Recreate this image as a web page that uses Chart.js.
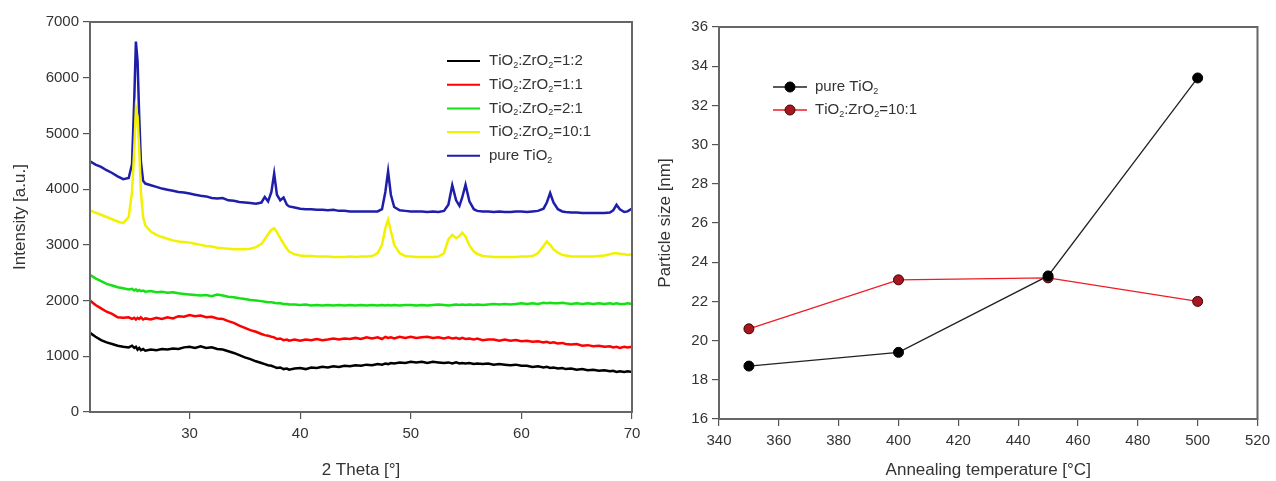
<!DOCTYPE html>
<html>
<head>
<meta charset="utf-8">
<script src="https://cdn.jsdelivr.net/npm/chart.js@4"></script>
<style>
  body { margin: 0; background: #fff; }
  #wrap { position: relative; width: 1276px; height: 481px; }
  canvas { position: absolute; top: 0; }
  #xrd_chart { left: 0; }
  #size_chart { left: 640px; }
</style>
</head>
<body>
<div id="wrap">
  <canvas id="xrd_chart" width="650" height="481"></canvas>
  <canvas id="size_chart" width="636" height="481"></canvas>
</div>
<script>
"use strict";

// ---- XRD patterns (left) ----
const twoTheta = [
	21, 21.5, 22, 22.5, 23, 23.5, 24, 24.5, 24.8, 25.0,
	25.15, 25.3, 25.45, 25.6, 25.8, 26, 26.5, 27, 27.5, 28,
	28.5, 29, 29.5, 30, 30.5, 31, 31.5, 32, 32.5, 33,
	33.5, 34, 34.5, 35, 35.5, 36, 36.5, 36.8, 37.1, 37.4,
	37.65, 37.9, 38.2, 38.5, 38.8, 39, 39.5, 40, 40.5, 41,
	41.5, 42, 42.5, 43, 43.5, 44, 44.5, 45, 45.5, 46,
	46.5, 47, 47.4, 47.7, 47.95, 48.2, 48.5, 49, 49.5, 50,
	50.5, 51, 51.5, 52, 52.5, 53, 53.4, 53.75, 54.1, 54.4,
	54.65, 54.95, 55.3, 55.7, 56, 56.5, 57, 57.5, 58, 58.5,
	59, 59.5, 60, 60.5, 61, 61.5, 62, 62.3, 62.6, 62.9,
	63.3, 63.7, 64, 64.5, 65, 65.5, 66, 66.5, 67, 67.5,
	68, 68.3, 68.6, 68.9, 69.3, 69.6, 70,
];

const ratio12 = [
	1420, 1350, 1290, 1250, 1220, 1190, 1170, 1160, 1190, 1150,
	1170, 1120, 1150, 1110, 1130, 1100, 1120, 1110, 1130, 1120,
	1140, 1130, 1160, 1170, 1150, 1180, 1150, 1160, 1130, 1120,
	1090, 1060, 1020, 980, 950, 910, 880, 860, 840, 830,
	810, 790, 800, 770, 780, 760, 780, 790, 770, 800,
	790, 810, 800, 820, 810, 830, 820, 840, 830, 850,
	840, 860, 850, 870, 860, 880, 870, 890, 880, 900,
	890, 900, 880, 900, 890, 880, 890, 870, 890, 870,
	880, 870, 880, 860, 870, 860, 870, 850, 860, 850,
	840, 850, 830, 830, 810, 820, 800, 810, 790, 800,
	780, 790, 770, 780, 760, 770, 750, 760, 740, 750,
	730, 740, 720, 730, 720, 730, 720,
];

const ratio11 = [
	2000, 1920, 1860, 1800, 1760, 1700, 1690, 1700, 1670, 1690,
	1660, 1690, 1670, 1700, 1660, 1680, 1660, 1690, 1670, 1700,
	1680, 1720, 1710, 1740, 1720, 1730, 1700, 1710, 1680, 1670,
	1630, 1600, 1550, 1510, 1470, 1440, 1400, 1380, 1370, 1350,
	1340, 1310, 1320, 1290, 1300, 1280, 1300, 1280, 1300, 1290,
	1310, 1290, 1300, 1320, 1300, 1320, 1310, 1330, 1310, 1340,
	1320, 1340, 1310, 1350, 1330, 1340, 1320, 1350, 1330, 1350,
	1330, 1340, 1350, 1330, 1340, 1320, 1340, 1320, 1330, 1310,
	1330, 1310, 1320, 1300, 1320, 1290, 1300, 1300, 1280, 1300,
	1280, 1290, 1270, 1280, 1260, 1270, 1250, 1260, 1240, 1250,
	1230, 1240, 1220, 1210, 1220, 1190, 1200, 1180, 1190, 1170,
	1180, 1160, 1170, 1150, 1170, 1160, 1170,
];

const ratio21 = [
	2460, 2400, 2350, 2300, 2270, 2240, 2220, 2200, 2210, 2180,
	2200, 2170, 2190, 2170, 2180, 2160, 2170, 2150, 2160, 2140,
	2150, 2130, 2120, 2110, 2100, 2090, 2100, 2080, 2110, 2090,
	2070, 2060, 2040, 2030, 2010, 2000, 1990, 1980, 1970, 1970,
	1960, 1950, 1950, 1940, 1940, 1930, 1930, 1920, 1930, 1910,
	1920, 1910, 1920, 1910, 1920, 1910, 1920, 1910, 1920, 1910,
	1920, 1910, 1920, 1910, 1920, 1910, 1920, 1910, 1920, 1920,
	1910, 1920, 1910, 1920, 1930, 1920, 1910, 1920, 1930, 1920,
	1930, 1920, 1930, 1920, 1930, 1920, 1930, 1940, 1930, 1940,
	1930, 1940, 1950, 1940, 1950, 1940, 1960, 1950, 1960, 1950,
	1950, 1960, 1950, 1940, 1950, 1940, 1950, 1940, 1950, 1940,
	1950, 1940, 1950, 1940, 1940, 1950, 1940,
];

const ratio101 = [
	3620, 3580, 3540, 3500, 3460, 3420, 3390, 3500, 3950, 4700,
	5450, 5300, 4700, 3950, 3500, 3350, 3240, 3180, 3140, 3110,
	3080, 3060, 3050, 3040, 3020, 3000, 2980, 2970, 2950, 2940,
	2930, 2920, 2920, 2920, 2930, 2960, 3020, 3100, 3190, 3270,
	3300, 3230, 3120, 3020, 2930, 2880, 2830, 2810, 2800, 2800,
	2790, 2790, 2790, 2780, 2780, 2780, 2790, 2780, 2790, 2790,
	2800, 2850, 3000, 3300, 3450, 3250, 3000, 2850, 2800, 2790,
	2780, 2780, 2780, 2780, 2790, 2850, 3100, 3180, 3120, 3160,
	3220, 3150, 2990, 2880, 2840, 2800, 2790, 2780, 2780, 2780,
	2780, 2780, 2790, 2790, 2800, 2850, 2980, 3060, 3000, 2920,
	2860, 2820, 2810, 2790, 2790, 2790, 2790, 2790, 2800, 2810,
	2830, 2850, 2850, 2840, 2830, 2820, 2830,
];

const pureTiO2 = [
	4500, 4440, 4400, 4340, 4290, 4230, 4180, 4200, 4450, 5600,
	6650, 6300, 5300, 4500, 4150, 4100, 4070, 4040, 4010, 3990,
	3970, 3950, 3940, 3920, 3900, 3880, 3870, 3840, 3830, 3840,
	3800, 3790, 3770, 3760, 3750, 3740, 3760, 3860, 3780, 3950,
	4280, 3900, 3800, 3850, 3720, 3690, 3670, 3650, 3640, 3640,
	3630, 3630, 3620, 3630, 3610, 3610, 3600, 3600, 3600, 3600,
	3600, 3600, 3640, 3950, 4320, 3900, 3680, 3620, 3610, 3600,
	3600, 3600, 3590, 3600, 3590, 3610, 3720, 4070, 3800, 3700,
	3850, 4080, 3780, 3640, 3610, 3600, 3600, 3590, 3600, 3590,
	3590, 3600, 3600, 3590, 3600, 3610, 3650, 3760, 3930, 3760,
	3640, 3600, 3590, 3580, 3580, 3570, 3570, 3570, 3570, 3570,
	3580, 3620, 3720, 3640, 3590, 3600, 3650,
];

const xrdLabels = ["TiO2:ZrO2=1:2", "TiO2:ZrO2=1:1", "TiO2:ZrO2=2:1", "TiO2:ZrO2=10:1", "pure TiO2"];
const xrdXTicks = [30, 40, 50, 60, 70];
const xrdYTicks = [0, 1000, 2000, 3000, 4000, 5000, 6000, 7000];

// ---- particle size (right) ----
const annealTemps = [350, 400, 450, 500];
const sizePure = [18.7, 19.4, 23.3, 33.4];
const sizeTiZr101 = [20.6, 23.1, 23.2, 22.0];
const sizeLabels = ["pure TiO2", "TiO2:ZrO2=10:1"];
const sizeXTicks = [340, 360, 380, 400, 420, 440, 460, 480, 500, 520];
const sizeYTicks = [16, 18, 20, 22, 24, 26, 28, 30, 32, 34, 36];

const FONT = "'Liberation Sans', Arial, sans-serif";
const TEXT_COLOR = "#333";

// text with O2 -> O + subscript 2
function drawChemText(ctx, text, x, y, size) {
	ctx.save();
	ctx.fillStyle = TEXT_COLOR;
	ctx.textBaseline = "middle";
	ctx.textAlign = "left";
	let cx = x;
	for (let i = 0; i < text.length; i++) {
		const ch = text[i];
		if (ch === "2" && text[i - 1] === "O") {
			ctx.font = `${Math.round(size * 0.62)}px ${FONT}`;
			ctx.fillText(ch, cx, y + size * 0.3);
		} else {
			ctx.font = `${size}px ${FONT}`;
			ctx.fillText(ch, cx, y);
		}
		cx += ctx.measureText(ch).width;
	}
	ctx.restore();
}

const framePlugin = {
	id: "frame",
	afterDatasetsDraw(chart) {
		const { ctx, chartArea: a } = chart;
		ctx.save();
		ctx.strokeStyle = "#666";
		ctx.lineWidth = 2;
		ctx.strokeRect(a.left, a.top, a.right - a.left, a.bottom - a.top);
		ctx.restore();
	},
};

const legendPlugin = {
	id: "innerLegend",
	afterDraw(chart, args, opts) {
		const { ctx, chartArea: a } = chart;
		chart.data.datasets.forEach((ds, i) => {
			const y = a.top + opts.top + i * opts.gap;
			const x0 = a.left + opts.left;
			ctx.save();
			ctx.strokeStyle = ds.borderColor;
			ctx.lineWidth = opts.lineWidth;
			ctx.beginPath();
			ctx.moveTo(x0, y);
			ctx.lineTo(x0 + opts.lineLen, y);
			ctx.stroke();
			if (opts.marker) {
				ctx.fillStyle = ds.pointBackgroundColor;
				ctx.strokeStyle = ds.pointBorderColor;
				ctx.lineWidth = 1;
				ctx.beginPath();
				ctx.arc(x0 + opts.lineLen / 2, y, ds.pointRadius, 0, Math.PI * 2);
				ctx.fill();
				ctx.stroke();
			}
			ctx.restore();
			drawChemText(ctx, ds.label, x0 + opts.lineLen + opts.textGap, y, opts.fontSize);
		});
	},
};

function axisOpts(min, max, tickList, title, fixedSize, titlePad, isY) {
	return {
		type: "linear",
		min: min,
		max: max,
		afterBuildTicks: (scale) => {
			scale.ticks = tickList.map((v) => ({ value: v }));
		},
		afterFit: (scale) => {
			if (isY) scale.width = fixedSize;
			else scale.height = fixedSize;
		},
		grid: {
			display: true,
			drawOnChartArea: false,
			drawTicks: true,
			tickLength: 7,
			color: "#555",
			lineWidth: 1.2,
		},
		border: { display: false },
		ticks: {
			color: TEXT_COLOR,
			font: { family: FONT, size: 15 },
			padding: isY ? 4 : 6,
			maxRotation: 0,
			autoSkip: false,
			callback: (v) => String(v),
		},
		title: {
			display: true,
			text: title,
			color: TEXT_COLOR,
			font: { family: FONT, size: 17 },
			padding: { top: titlePad, bottom: 0 },
		},
	};
}

function xrdDataset(label, values, color) {
	return {
		label: label,
		data: twoTheta.map((t, i) => ({ x: t, y: values[i] })),
		borderColor: color,
		borderWidth: 2.5,
		pointRadius: 0,
		tension: 0,
		fill: false,
	};
}

new Chart(document.getElementById("xrd_chart"), {
	type: "line",
	data: {
		datasets: [
			xrdDataset(xrdLabels[0], ratio12, "#000000"),
			xrdDataset(xrdLabels[1], ratio11, "#ff0000"),
			xrdDataset(xrdLabels[2], ratio21, "#14e014"),
			xrdDataset(xrdLabels[3], ratio101, "#f2f200"),
			xrdDataset(xrdLabels[4], pureTiO2, "#1e1eaa"),
		],
	},
	options: {
		responsive: false,
		animation: false,
		layout: { padding: { left: 0, top: 22, right: 18, bottom: 0 } },
		scales: {
			x: axisOpts(21, 70, xrdXTicks, "2 Theta [°]", 69, 4, false),
			y: axisOpts(0, 7000, xrdYTicks, "Intensity [a.u.]", 90, 10, true),
		},
		plugins: {
			legend: { display: false },
			tooltip: { enabled: false },
			innerLegend: { left: 357, top: 39, gap: 23.7, lineLen: 33, textGap: 9, lineWidth: 2, fontSize: 15 },
		},
	},
	plugins: [framePlugin, legendPlugin],
});

new Chart(document.getElementById("size_chart"), {
	type: "line",
	data: {
		datasets: [
			{
				label: sizeLabels[0],
				data: annealTemps.map((t, i) => ({ x: t, y: sizePure[i] })),
				borderColor: "#222",
				borderWidth: 1.3,
				pointRadius: 5,
				pointBackgroundColor: "#000",
				pointBorderColor: "#000",
				pointBorderWidth: 1,
				tension: 0,
			},
			{
				label: sizeLabels[1],
				data: annealTemps.map((t, i) => ({ x: t, y: sizeTiZr101[i] })),
				borderColor: "#ee1c25",
				borderWidth: 1.3,
				pointRadius: 5,
				pointBackgroundColor: "#a8161f",
				pointBorderColor: "#3a0508",
				pointBorderWidth: 1,
				tension: 0,
			},
		],
	},
	options: {
		responsive: false,
		animation: false,
		layout: { padding: { left: 0, top: 27, right: 14, bottom: 0 } },
		scales: {
			x: axisOpts(340, 520, sizeXTicks, "Annealing temperature [°C]", 62, 0, false),
			y: axisOpts(16, 36, sizeYTicks, "Particle size [nm]", 79, 15, true),
		},
		plugins: {
			legend: { display: false },
			tooltip: { enabled: false },
			innerLegend: { left: 54, top: 60, gap: 23, lineLen: 34, textGap: 8, lineWidth: 1.3, fontSize: 15, marker: true },
		},
	},
	plugins: [framePlugin, legendPlugin],
});
</script>
</body>
</html>
